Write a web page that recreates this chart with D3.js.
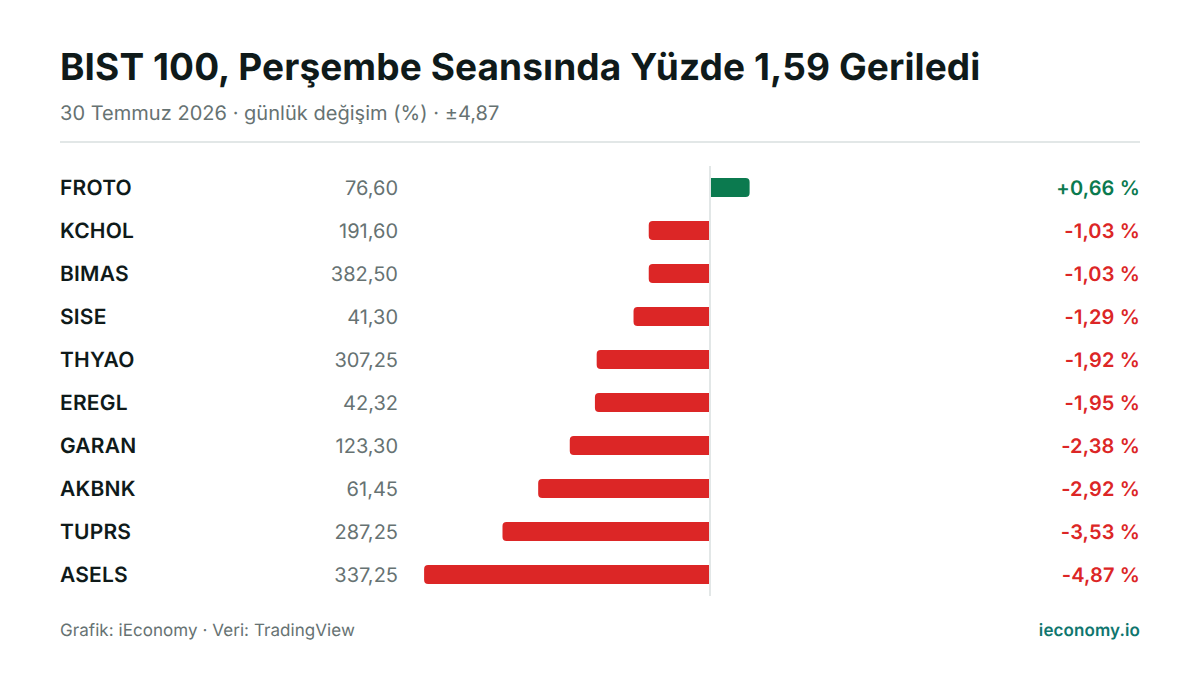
<!DOCTYPE html>
<html>
<head>
  <title>BIST 100</title>
  <meta charset="UTF-8">
  <script src="https://d3js.org/d3.v7.min.js"></script>
  <style>
    html, body { margin: 0; background: #fff; }
    svg { display: block; }
    text { font-family: Inter, sans-serif; text-rendering: geometricPrecision; }
  </style>
</head>
<body>
  <div id="chart"></div>
  <script>
    // Data
    const tickers = ["FROTO", "KCHOL", "BIMAS", "SISE", "THYAO", "EREGL", "GARAN", "AKBNK", "TUPRS", "ASELS"];
    const prices = ["76,60", "191,60", "382,50", "41,30", "307,25", "42,32", "123,30", "61,45", "287,25", "337,25"];
    const changes = [0.66, -1.03, -1.03, -1.29, -1.92, -1.95, -2.38, -2.92, -3.53, -4.87];
    const maxChange = 4.87;

    const titleText = "BIST 100, Perşembe Seansında Yüzde 1,59 Geriledi";
    const subtitleText = "30 Temmuz 2026 · günlük değişim (%) · ±4,87";
    const sourceText = "Grafik: iEconomy · Veri: TradingView";
    const brandText = "ieconomy.io";

    const ink = "#0f1a1a", grey = "#667272", rule = "#e2e7e7";
    const green = "#0b7a4f", red = "#dc2626", teal = "#0f766e";
    const left = 60, right = 1140;

    const svg = d3.select("#chart").append("svg")
      .attr("width", 1200)
      .attr("height", 675);

    svg.append("rect").attr("width", 1200).attr("height", 675).attr("fill", "#fff");

    svg.append("text").attr("x", left).attr("y", 80)
      .attr("font-size", 37).attr("font-weight", 700).attr("fill", ink)
      .attr("letter-spacing", 0.1)
      .text(titleText);

    svg.append("text").attr("x", left).attr("y", 120)
      .attr("font-size", 20).attr("fill", grey)
      .attr("letter-spacing", 0.03)
      .text(subtitleText);

    svg.append("rect").attr("x", left).attr("y", 141)
      .attr("width", right - left).attr("height", 2).attr("fill", rule);

    // scales
    const x = d3.scaleLinear().domain([-maxChange, maxChange]).range([425.1, 994.9]);
    const y = d3.scaleBand().domain(tickers).range([166, 596])
      .paddingInner(24 / 43).paddingOuter(12 / 43);

    const fmt = d => (d > 0 ? "+" : "-") + Math.abs(d).toFixed(2).replace(".", ",") + " %";

    // bar rounded only on the outer end, starts beside the zero line
    function barPath(d, i) {
      const y0 = y(tickers[i]), h = y.bandwidth(), r = 4;
      const s = d > 0 ? 1 : -1;
      const start = x(0) + s, end = x(d) + s;
      const sweep = d > 0 ? 1 : 0;
      return "M" + start + "," + y0 +
        "H" + (end - s * r) +
        "A" + r + "," + r + " 0 0 " + sweep + " " + end + "," + (y0 + r) +
        "V" + (y0 + h - r) +
        "A" + r + "," + r + " 0 0 " + sweep + " " + (end - s * r) + "," + (y0 + h) +
        "H" + start + "Z";
    }

    svg.append("rect").attr("x", x(0) - 1).attr("y", y.range()[0])
      .attr("width", 2).attr("height", y.range()[1] - y.range()[0]).attr("fill", rule);

    svg.selectAll("path.bar").data(changes).join("path")
      .attr("class", "bar")
      .attr("d", barPath)
      .attr("fill", d => d > 0 ? green : red);

    const mid = t => y(t) + y.bandwidth() / 2 + 7;

    svg.selectAll("text.ticker").data(tickers).join("text")
      .attr("class", "ticker")
      .attr("x", left).attr("y", d => mid(d))
      .attr("font-size", 21).attr("font-weight", 600).attr("fill", ink)
      .attr("letter-spacing", 0.2)
      .text(d => d);

    svg.selectAll("text.price").data(prices).join("text")
      .attr("class", "price")
      .attr("x", 398).attr("y", (d, i) => mid(tickers[i]))
      .attr("text-anchor", "end")
      .attr("font-size", 20).attr("fill", grey)
      .text(d => d);

    svg.selectAll("text.change").data(changes).join("text")
      .attr("class", "change")
      .attr("x", right).attr("y", (d, i) => mid(tickers[i]))
      .attr("text-anchor", "end")
      .attr("font-size", 20).attr("font-weight", 600)
      .attr("letter-spacing", 0.15)
      .attr("fill", d => d > 0 ? green : red)
      .text(fmt);

    svg.append("text").attr("x", left).attr("y", 636)
      .attr("font-size", 17).attr("fill", grey)
      .attr("letter-spacing", 0.06)
      .text(sourceText);

    svg.append("text").attr("x", right).attr("y", 636)
      .attr("text-anchor", "end")
      .attr("font-size", 17).attr("font-weight", 600).attr("fill", teal)
      .attr("letter-spacing", 0.1)
      .text(brandText);
  </script>
</body>
</html>
